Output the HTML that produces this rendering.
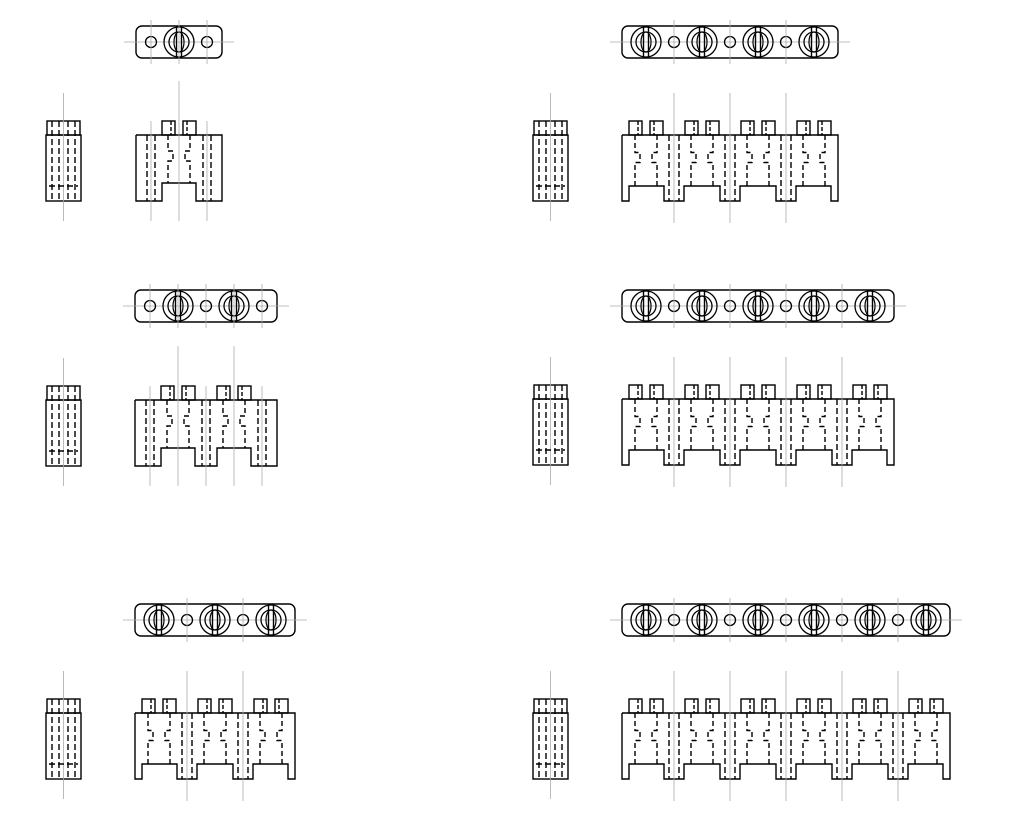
<!DOCTYPE html>
<html><head><meta charset="utf-8"><style>html,body{margin:0;padding:0;background:#fff}svg{display:block}</style></head>
<body>
<svg id="s" width="1024" height="840" xmlns="http://www.w3.org/2000/svg"></svg>
<script>
var S=document.getElementById('s'),o='';
function L(x1,y1,x2,y2,c,d,w){o+='<line x1="'+x1+'" y1="'+y1+'" x2="'+x2+'" y2="'+y2+'" stroke="'+(c||'#000')+'" stroke-width="'+(w||1.4)+'"'+(d?' stroke-dasharray="'+d+'"':'')+'/>';}
function G(x1,y1,x2,y2){L(x1,y1,x2,y2,'#aaa',null,0.8);}
function P(pts,d){o+='<polyline fill="none" stroke="#000" stroke-width="1.4" points="'+pts+'"'+(d?' stroke-dasharray="5,3"':'')+'/>';}
function C(x,y,r){o+='<circle cx="'+x+'" cy="'+y+'" r="'+r+'" fill="none" stroke="#000" stroke-width="1.3"/>';}
function big(x,y){C(x,y,15);C(x,y,10);o+='<ellipse cx="'+x+'" cy="'+y+'" rx="5" ry="10" fill="none" stroke="#000" stroke-width="1.2"/>';
 L(x-2.5,y-15,x-2.5,y+15);L(x+2.5,y-15,x+2.5,y+15);}
function small(x,y){C(x,y,5.5);}
function side(x,yp){
 o+='<rect x="'+(x+1)+'" y="'+yp+'" width="33" height="14" fill="none" stroke="#000" stroke-width="1.4"/>';
 o+='<rect x="'+x+'" y="'+(yp+14)+'" width="35" height="66" fill="none" stroke="#000" stroke-width="1.4"/>';
 var cx=x+17.5;G(cx,yp-28,cx,yp+100);
 [6,13,22,29].forEach(function(d){L(x+d,yp,x+d,yp+80,'#000','6,3');});
 L(x+3,yp+65,x+32,yp+65,'#000','6,3');
}
function cross(cx,yt,yb,a,b){
 var m=(yt+yb)/2;
 P((cx-a)+','+yt+' '+(cx-a)+','+(m-8)+' '+(cx-b)+','+(m-8)+' '+(cx-b)+','+(m+2)+' '+(cx-a)+','+(m+2)+' '+(cx-a)+','+yb,1);
 P((cx+a)+','+yt+' '+(cx+a)+','+(m-8)+' '+(cx+b)+','+(m-8)+' '+(cx+b)+','+(m+2)+' '+(cx+a)+','+(m+2)+' '+(cx+a)+','+yb,1);
}
function pegs(cx,yp){
 [[-17,-4],[4,17]].forEach(function(p){o+='<rect x="'+(cx+p[0])+'" y="'+yp+'" width="13" height="14" fill="none" stroke="#000" stroke-width="1.4"/>';
 L(cx+p[0]+(p[0]<0?9:4),yp,cx+p[0]+(p[0]<0?9:4),yp+14,'#000','4,2');});
}
function gA(x0,n,yt,yp){
 var w=56*n+30,x1=x0+w;
 o+='<rect x="'+x0+'" y="'+(yt-16)+'" width="'+w+'" height="32" rx="6" fill="none" stroke="#000" stroke-width="1.4"/>';
 G(x0-12,yt,x1+12,yt);
 var bigs=[],sm=[];for(var i=0;i<=n;i++)sm.push(x0+15+56*i);for(i=0;i<n;i++)bigs.push(x0+43+56*i);
 sm.forEach(function(x){small(x,yt);G(x,yt-22,x,yt+22);});
 bigs.forEach(function(x){big(x,yt);G(x,yt-22,x,yt+22);});
 var bt=yp+14,bb=yp+80,nt=yp+62;
 var pts=x0+','+bt+' '+x0+','+bb;
 bigs.forEach(function(x){pts+=' '+(x-17)+','+bb+' '+(x-17)+','+nt+' '+(x+17)+','+nt+' '+(x+17)+','+bb;});
 pts+=' '+x1+','+bb+' '+x1+','+bt+' '+x0+','+bt;P(pts);
 bigs.forEach(function(x){pegs(x,yp);cross(x,bt,nt,11,6);G(x,yp-40,x,bb+20);});
 sm.forEach(function(x){L(x-4,bt,x-4,bb,'#000','6,3');L(x+4,bt,x+4,bb,'#000','6,3');G(x,yp,x,bb+20);});
}
function gB(x0,n,yt,yp){
 var w=56*n-8,x1=x0+w;
 o+='<rect x="'+x0+'" y="'+(yt-16)+'" width="'+w+'" height="32" rx="6" fill="none" stroke="#000" stroke-width="1.4"/>';
 G(x0-12,yt,x1+12,yt);
 var bigs=[],sm=[];for(var i=0;i<n;i++)bigs.push(x0+24+56*i);for(i=0;i<n-1;i++)sm.push(x0+52+56*i);
 sm.forEach(function(x){small(x,yt);G(x,yt-22,x,yt+22);});
 bigs.forEach(function(x){big(x,yt);});
 var bt=yp+14,bb=yp+65,lb=yp+80;
 var pts=x0+','+bt+' '+x0+','+lb+' '+(x0+7)+','+lb+' '+(x0+7)+','+bb;
 sm.forEach(function(x){pts+=' '+(x-10)+','+bb+' '+(x-10)+','+lb+' '+(x+10)+','+lb+' '+(x+10)+','+bb;});
 pts+=' '+(x1-7)+','+bb+' '+(x1-7)+','+lb+' '+x1+','+lb+' '+x1+','+bt+' '+x0+','+bt;P(pts);
 bigs.forEach(function(x){pegs(x,yp);cross(x,bt,bb,11,6);});
 sm.forEach(function(x){L(x-5,bt,x-5,lb,'#000','6,3');L(x+5,bt,x+5,lb,'#000','6,3');G(x,yp-28,x,lb+22);});
}
gA(136,1,42,121);side(46,121);
gA(135,2,306,386);side(46,386);
gB(135,3,620,699);side(46,699);
gB(622,4,42,121);side(533,121);
gB(622,5,306,385);side(533,385);
gB(622,6,620,699);side(533,699);
S.innerHTML=o;
</script>
</body></html>
